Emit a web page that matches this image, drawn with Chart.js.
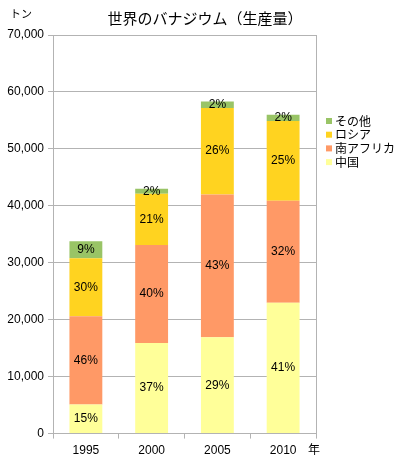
<!DOCTYPE html>
<html>
<head>
<meta charset="utf-8">
<script src="https://cdn.jsdelivr.net/npm/chart.js@4.4.0/dist/chart.umd.min.js"></script>
<style>
  html, body { margin: 0; padding: 0; background: #fff; }
  #wrap { width: 395px; height: 465px; }
</style>
</head>
<body>
<div id="wrap"><canvas id="chart" width="395" height="465"></canvas></div>
<script>
// Data (tonnes)
const years = ['1995', '2000', '2005', '2010'];
const china = [5100, 15900, 16900, 23000];
const southAfrica = [15500, 17200, 25100, 17900];
const russia = [10200, 9000, 15200, 14000];
const others = [3000, 900, 1100, 1100];
const yTicks = [0, 10000, 20000, 30000, 40000, 50000, 60000, 70000];

const JP = '"Noto Sans CJK JP", sans-serif';
const NUM = '"Liberation Sans", "Noto Sans CJK JP", sans-serif';
const gridColor = '#b3b3b3';

// Title, units, legend, percentage labels
const decorations = {
    id: 'decorations',
    afterDraw(chart) {
        const ctx = chart.ctx;
        const area = chart.chartArea;
        ctx.save();

        // right border of plot area
        ctx.strokeStyle = gridColor;
        ctx.lineWidth = 1;
        ctx.beginPath();
        ctx.moveTo(Math.round(area.right) + 0.5, area.top);
        ctx.lineTo(Math.round(area.right) + 0.5, area.bottom);
        ctx.stroke();

        // percentage labels
        ctx.font = '12px ' + NUM;
        ctx.fillStyle = '#000';
        ctx.textAlign = 'center';
        ctx.textBaseline = 'middle';
        const totals = years.map((_, i) =>
            chart.data.datasets.reduce((s, ds) => s + ds.data[i], 0));
        chart.data.datasets.forEach((ds, di) => {
            chart.getDatasetMeta(di).data.forEach((bar, i) => {
                const pct = Math.round(ds.data[i] / totals[i] * 100) + '%';
                ctx.fillText(pct, bar.x, (bar.y + bar.base) / 2);
            });
        });

        // title
        ctx.font = '15px ' + JP;
        ctx.fillText('世界のバナジウム（生産量）', 205, 18);

        // units
        ctx.font = '11px ' + JP;
        ctx.fillText('トン', 21, 14);
        ctx.font = '12px ' + JP;
        ctx.fillText('年', 314, 449);

        // legend (reverse order, top item = その他)
        ctx.textAlign = 'left';
        const items = chart.data.datasets.slice().reverse();
        items.forEach((ds, k) => {
            const cy = 121 + k * 13.7;
            ctx.fillStyle = ds.backgroundColor;
            ctx.fillRect(326, cy - 3, 6, 6);
            ctx.fillStyle = '#000';
            ctx.font = '12px ' + JP;
            ctx.fillText(ds.label, 335, cy);
        });

        ctx.restore();
    }
};

const ctx = document.getElementById('chart').getContext('2d');
new Chart(ctx, {
    type: 'bar',
    data: {
        labels: years,
        datasets: [
            { label: '中国', data: china, backgroundColor: '#ffff99' },
            { label: '南アフリカ', data: southAfrica, backgroundColor: '#ff9966' },
            { label: 'ロシア', data: russia, backgroundColor: '#ffd320' },
            { label: 'その他', data: others, backgroundColor: '#99c466' }
        ]
    },
    options: {
        responsive: false,
        animation: false,
        devicePixelRatio: 1,
        layout: { padding: { left: 0, right: 79, top: 35, bottom: 2 } },
        datasets: {
            bar: { barPercentage: 0.5, categoryPercentage: 1.0, borderWidth: 0 }
        },
        plugins: {
            legend: { display: false },
            title: { display: false },
            tooltip: { enabled: false }
        },
        scales: {
            x: {
                stacked: true,
                grid: {
                    offset: true,
                    drawOnChartArea: false,
                    drawTicks: true,
                    tickLength: 5,
                    color: gridColor
                },
                border: { color: gridColor },
                ticks: {
                    color: '#000',
                    font: { size: 12, family: NUM },
                    padding: 5
                }
            },
            y: {
                stacked: true,
                min: 0,
                max: 70000,
                afterFit(scale) { scale.width = 53; },
                afterBuildTicks(scale) {
                    scale.ticks = yTicks.map(v => ({ value: v }));
                },
                grid: { color: gridColor, tickLength: 5 },
                border: { color: gridColor },
                ticks: {
                    color: '#000',
                    padding: 4,
                    font: { size: 12, family: NUM },
                    callback: value => value.toLocaleString('en-US')
                }
            }
        }
    },
    plugins: [decorations]
});
</script>
</body>
</html>
